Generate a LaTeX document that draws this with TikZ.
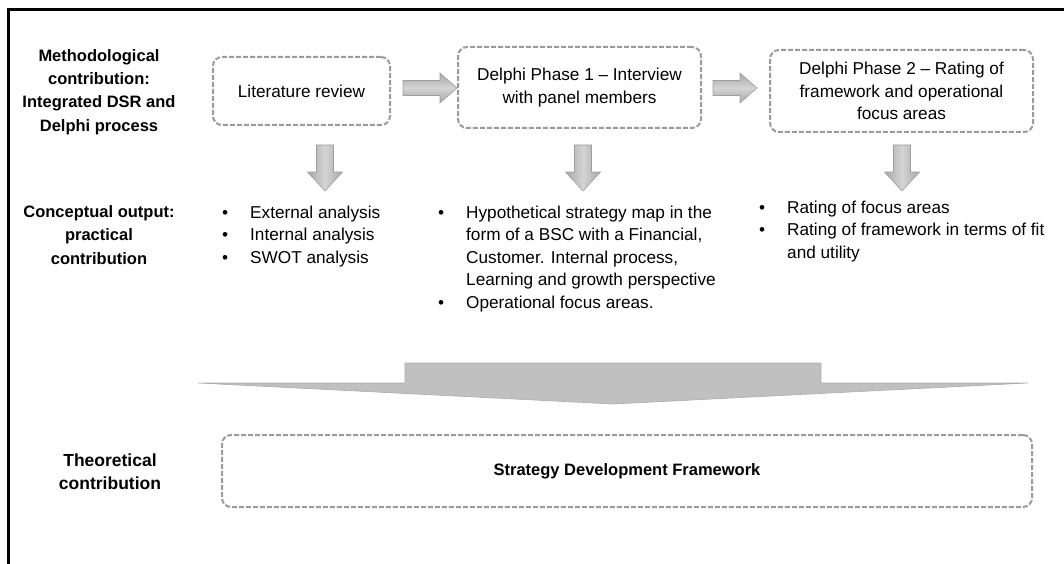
\documentclass[tikz,border=0pt]{standalone}
\usepackage{fontspec}
\setmainfont{Liberation Sans}
\usetikzlibrary{calc}
\definecolor{dashgray}{RGB}{155,155,155}
\definecolor{arrdark}{RGB}{168,168,168}
\definecolor{arrlight}{RGB}{212,212,212}
\definecolor{arredge}{RGB}{158,158,158}
\definecolor{bigarr}{RGB}{192,192,192}
\definecolor{bigedge}{RGB}{172,172,172}
\tikzset{
  stagebox/.style={draw=dashgray, line width=2pt, dash pattern=on 5pt off 2pt,
    rounded corners=9pt, align=center, inner sep=0pt,
    font=\fontsize{17.2}{22.5}\selectfont},
  rowlabel/.style={font=\bfseries\fontsize{16.5}{23.3}\selectfont, align=center, inner sep=0pt},
  bulletcol/.style={font=\fontsize{17.2}{22.5}\selectfont, inner sep=0pt, anchor=base west},
  blockarrow/.style={draw=arredge, line width=0.6pt},
  frameline/.style={line width=3pt, black},
}
\newcommand\rblock[3]{%
  \draw[blockarrow, top color=arrdark, bottom color=arrdark, middle color=arrlight]
    (#1,#3-7.5) -- (#2-17,#3-7.5) -- (#2-17,#3-15) -- (#2,#3) -- (#2-17,#3+15)
    -- (#2-17,#3+7.5) -- (#1,#3+7.5) -- cycle;}
\newcommand\dblock[1]{%
  \draw[blockarrow, left color=arrdark, right color=arrdark, middle color=arrlight]
    (#1-8.5,145) -- (#1+8.5,145) -- (#1+8.5,172) -- (#1+17.5,172) -- (#1,191)
    -- (#1-17.5,172) -- (#1-8.5,172) -- cycle;}
\newcommand\bmark{\makebox[28pt][l]{\textbullet}}
\begin{document}
\begin{tikzpicture}[x=1pt,y=-1pt]
\useasboundingbox (0,0) rectangle (1064,564);
% frame
\coordinate (fb) at (8,564);
\coordinate (fc) at (8,10);
\coordinate (fr) at (1064,10);
\draw[frameline] (fb) -- (fc) -- (fr);

% row labels
\node[rowlabel] (lab1) at (99,92) {Methodological\\contribution:\\Integrated DSR and\\Delphi process};
\node[rowlabel] (lab2) at (99,235) {Conceptual output:\\practical\\contribution};
\node[rowlabel, font=\bfseries\fontsize{17.5}{23}\selectfont] (lab3) at (110,472) {Theoretical\\contribution};

% stage boxes
\node[stagebox, minimum width=177pt, minimum height=68pt] (lit) at (301.5,91) {Literature review};
\node[stagebox, minimum width=243pt, minimum height=81pt] (p1) at (579.5,87.5) {Delphi Phase 1 – Interview\\with panel members};
\node[stagebox, minimum width=263pt, minimum height=82pt] (p2) at (901.5,91) {Delphi Phase 2 – Rating of\\framework and operational\\focus areas};
\node[stagebox, minimum width=810pt, minimum height=72pt, font=\bfseries\fontsize{16.5}{20}\selectfont] (sdf) at (627,471) {Strategy Development Framework};

% block arrows between boxes
\rblock{403}{457}{88}
\rblock{713}{757}{88}

% down arrows
\dblock{325}
\dblock{583}
\dblock{902}

% bullet columns
\node[bulletcol] (c1) at (222,218) {\begin{tabular}[t]{@{}l@{}l@{}}
\bmark & External analysis\\
\bmark & Internal analysis\\
\bmark & SWOT analysis
\end{tabular}};
\node[bulletcol] (c2) at (438,218) {\begin{tabular}[t]{@{}l@{}l@{}}
\bmark & Hypothetical strategy map in the\\
 & form of a BSC with a Financial,\\
 & Customer. Internal process,\\
 & Learning and growth perspective\\
\bmark & Operational focus areas.
\end{tabular}};
\node[bulletcol] (c3) at (759,213) {\begin{tabular}[t]{@{}l@{}l@{}}
\bmark & Rating of focus areas\\
\bmark & Rating of framework in terms of fit\\
 & and utility
\end{tabular}};

% big merging arrow
\draw[fill=bigarr, draw=bigedge, line width=0.6pt]
  (405,363) -- (821,363) -- (821,383) -- (1028,383) -- (613,404) -- (198,383) -- (405,383) -- cycle;
\end{tikzpicture}
\end{document}
